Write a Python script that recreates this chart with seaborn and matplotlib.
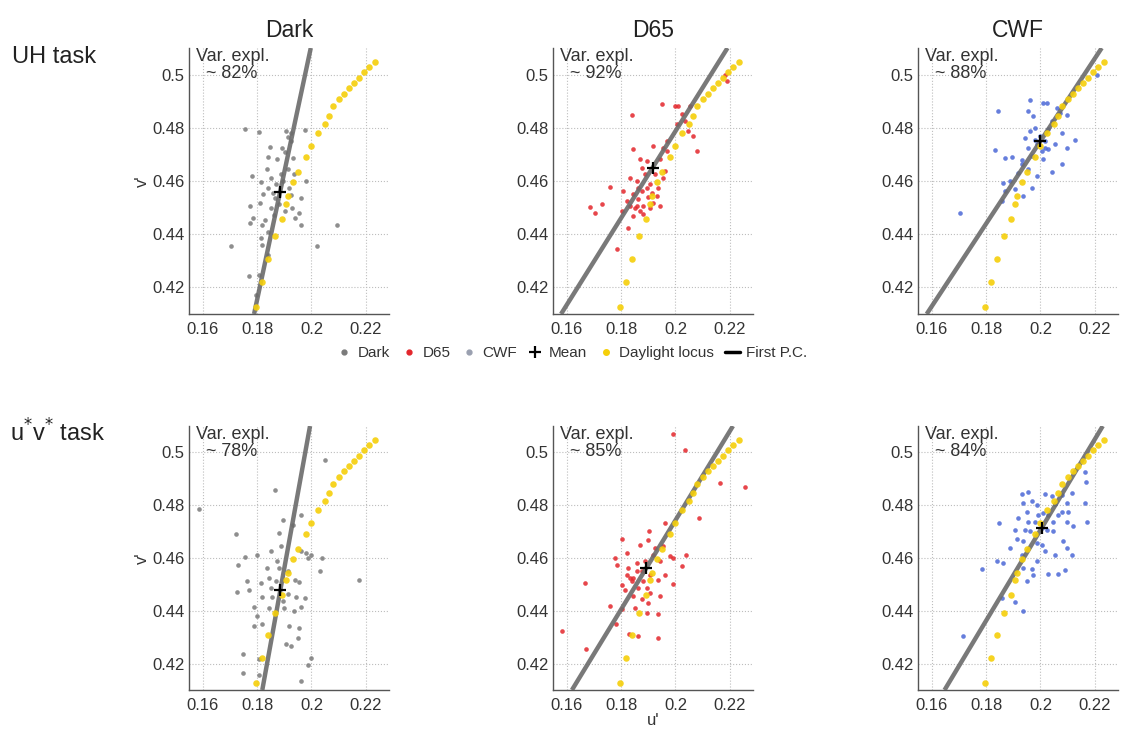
import numpy as np
import pandas as pd
import matplotlib
matplotlib.use("Agg")
import matplotlib.pyplot as plt
from matplotlib.lines import Line2D
import seaborn as sns

sns.set_theme(style="white")
plt.rcParams['font.family'] = ['Liberation Sans', 'DejaVu Sans']

# ---------------- data ----------------
conditions = ["Dark", "D65", "CWF"]
tasks = ["UH task", "u$^{*}$v$^{*}$ task"]
var_expl = [[82, 92, 88], [78, 85, 84]]

mean_u = [[0.1885, 0.1916, 0.2000], [0.1886, 0.1893, 0.2004]]
mean_v = [[0.4560, 0.4650, 0.4750], [0.4480, 0.4562, 0.4713]]
pc_slope = [[4.80, 1.635, 1.555], [5.70, 1.69, 1.72]]

locus_u = [0.1798, 0.1818, 0.1842, 0.1867, 0.1891, 0.1906, 0.1914, 0.1931, 0.1950,
           0.1980, 0.2000, 0.2025, 0.2050, 0.2063, 0.2081, 0.2100, 0.2119, 0.2138,
           0.2156, 0.2175, 0.2194, 0.2213, 0.2232]
locus_v = [0.4125, 0.4220, 0.4308, 0.4392, 0.4458, 0.4515, 0.4545, 0.4595, 0.4635,
           0.4690, 0.4732, 0.4782, 0.4815, 0.4845, 0.4882, 0.4908, 0.4928, 0.4948,
           0.4968, 0.4988, 0.5008, 0.5028, 0.5048]

uh_dark_u = [0.1756, 0.1806, 0.1906, 0.1925, 0.1975, 0.1913, 0.1925, 0.1848, 0.1890, 0.1903,
             0.1840, 0.1875, 0.1931, 0.1835, 0.1853, 0.1781, 0.1913, 0.1935, 0.1981, 0.1815,
             0.1840, 0.1860, 0.1823, 0.1810, 0.1775, 0.1773, 0.1785, 0.1828, 0.1865, 0.1925,
             0.1963, 0.1903, 0.1928, 0.1956, 0.1940, 0.1960, 0.1819, 0.1840, 0.2094, 0.1706,
             0.2019, 0.1819, 0.1840, 0.1769, 0.1806, 0.1798, 0.1881, 0.1869, 0.1894, 0.1888,
             0.1919, 0.1850, 0.1863, 0.1813]
uh_dark_v = [0.4795, 0.4786, 0.4789, 0.4779, 0.4792, 0.4766, 0.4751, 0.4729, 0.4723, 0.4710,
             0.4691, 0.4682, 0.4688, 0.4644, 0.4613, 0.4619, 0.4644, 0.4628, 0.4600, 0.4597,
             0.4575, 0.4556, 0.4550, 0.4518, 0.4506, 0.4443, 0.4461, 0.4455, 0.4537, 0.4547,
             0.4537, 0.4487, 0.4499, 0.4480, 0.4461, 0.4434, 0.4434, 0.4408, 0.4436, 0.4354,
             0.4354, 0.4358, 0.4320, 0.4241, 0.4247, 0.4172, 0.4512, 0.4587, 0.4600, 0.4625,
             0.4575, 0.4499, 0.4474, 0.4386]

uh_d65_u = [0.1949, 0.1998, 0.2010, 0.2053, 0.1839, 0.2023, 0.2035, 0.2182, 0.2188, 0.2065,
            0.2078, 0.1968, 0.1919, 0.1845, 0.1955, 0.1870, 0.1894, 0.1943, 0.1961, 0.1955,
            0.1833, 0.1857, 0.1888, 0.1759, 0.1906, 0.1876, 0.1845, 0.1900, 0.1863, 0.1821,
            0.1931, 0.1918, 0.1882, 0.1851, 0.1729, 0.1686, 0.1704, 0.1802, 0.1845, 0.1882,
            0.1827, 0.1784, 0.1857, 0.1876, 0.1894, 0.1863, 0.1925, 0.1937, 0.1912, 0.1833,
            0.1808, 0.1870, 0.1906, 0.1943, 0.1968, 0.2004, 0.2047]
uh_d65_v = [0.4890, 0.4881, 0.4881, 0.4881, 0.4848, 0.4853, 0.4825, 0.5000, 0.4975, 0.4769,
            0.4713, 0.4750, 0.4731, 0.4719, 0.4725, 0.4681, 0.4675, 0.4681, 0.4638, 0.4613,
            0.4613, 0.4600, 0.4625, 0.4579, 0.4588, 0.4563, 0.4550, 0.4538, 0.4531, 0.4525,
            0.4544, 0.4519, 0.4506, 0.4500, 0.4515, 0.4503, 0.4478, 0.4488, 0.4469, 0.4475,
            0.4425, 0.4344, 0.4506, 0.4650, 0.4575, 0.4575, 0.4625, 0.4575, 0.4556, 0.4506,
            0.4563, 0.4488, 0.4500, 0.4506, 0.4713, 0.4813, 0.4788]

uh_cwf_u = [0.1961, 0.2010, 0.2023, 0.1845, 0.1955, 0.1974, 0.2059, 0.2071, 0.2096, 0.2041,
            0.2029, 0.2078, 0.2127, 0.1961, 0.1943, 0.1980, 0.1986, 0.2016, 0.2029, 0.2004,
            0.2096, 0.1833, 0.1870, 0.1894, 0.1931, 0.1968, 0.2010, 0.2078, 0.2041, 0.1986,
            0.1955, 0.1864, 0.1888, 0.1906, 0.1968, 0.1937, 0.1870, 0.1857, 0.1704, 0.1931,
            0.1998, 0.1980, 0.2016, 0.2053, 0.2206, 0.1955, 0.1919]
uh_cwf_v = [0.4903, 0.4894, 0.4894, 0.4865, 0.4865, 0.4844, 0.4875, 0.4856, 0.4848, 0.4825,
            0.4794, 0.4781, 0.4753, 0.4788, 0.4760, 0.4753, 0.4738, 0.4725, 0.4719, 0.4713,
            0.4723, 0.4715, 0.4688, 0.4690, 0.4678, 0.4694, 0.4681, 0.4665, 0.4635, 0.4619,
            0.4644, 0.4594, 0.4600, 0.4569, 0.4575, 0.4544, 0.4563, 0.4525, 0.4481, 0.4663,
            0.4769, 0.4800, 0.4750, 0.4738, 0.5000, 0.4725, 0.4631]

uv_dark_u = [0.1588, 0.2050, 0.1865, 0.1894, 0.1963, 0.1931, 0.1723, 0.1881, 0.1888, 0.1850,
             0.1756, 0.1800, 0.1981, 0.2000, 0.2038, 0.1731, 0.1838, 0.2031, 0.1881, 0.1763,
             0.1844, 0.1938, 0.1956, 0.2175, 0.1725, 0.1769, 0.1819, 0.1856, 0.1913, 0.1944,
             0.1975, 0.1788, 0.1800, 0.1844, 0.1900, 0.1935, 0.1963, 0.1788, 0.1819, 0.1919,
             0.1953, 0.1950, 0.1906, 0.1925, 0.1750, 0.1806, 0.2000, 0.1988, 0.1750, 0.1806,
             0.1963, 0.1869, 0.1850, 0.1894, 0.1875, 0.1913, 0.1813, 0.1963, 0.1988]
uv_dark_v = [0.4786, 0.4971, 0.4858, 0.4745, 0.4764, 0.4726, 0.4692, 0.4694, 0.4644, 0.4625,
             0.4603, 0.4610, 0.4619, 0.4613, 0.4600, 0.4572, 0.4562, 0.4552, 0.4562, 0.4514,
             0.4525, 0.4518, 0.4509, 0.4516, 0.4472, 0.4480, 0.4452, 0.4452, 0.4462, 0.4452,
             0.4449, 0.4414, 0.4380, 0.4409, 0.4409, 0.4401, 0.4414, 0.4342, 0.4351, 0.4342,
             0.4336, 0.4296, 0.4273, 0.4267, 0.4238, 0.4216, 0.4223, 0.4195, 0.4166, 0.4157,
             0.4135, 0.4512, 0.4487, 0.4436, 0.4587, 0.4550, 0.4506, 0.4625, 0.4600]

uv_d65_u = [0.1990, 0.2035, 0.2164, 0.2255, 0.2088, 0.1961, 0.1904, 0.1900, 0.1802, 0.1870,
            0.1925, 0.1955, 0.1821, 0.1778, 0.1784, 0.1857, 0.1980, 0.1992, 0.2039, 0.2023,
            0.1827, 0.1876, 0.1821, 0.1845, 0.1906, 0.1961, 0.1937, 0.1667, 0.1992, 0.1814,
            0.1863, 0.1906, 0.1943, 0.1900, 0.1845, 0.1759, 0.1802, 0.1851, 0.1937, 0.1781,
            0.1582, 0.1830, 0.1863, 0.1937, 0.1671, 0.1833, 0.1882, 0.1857, 0.1888, 0.1919,
            0.1943, 0.1839, 0.1894, 0.1802, 0.1876, 0.1894]
uv_d65_v = [0.5068, 0.5009, 0.4883, 0.4870, 0.4751, 0.4732, 0.4701, 0.4669, 0.4673, 0.4650,
            0.4638, 0.4644, 0.4619, 0.4600, 0.4575, 0.4581, 0.4606, 0.4600, 0.4610, 0.4569,
            0.4562, 0.4550, 0.4537, 0.4525, 0.4537, 0.4537, 0.4518, 0.4506, 0.4503, 0.4480,
            0.4487, 0.4468, 0.4455, 0.4430, 0.4455, 0.4418, 0.4405, 0.4411, 0.4386, 0.4351,
            0.4323, 0.4313, 0.4304, 0.4298, 0.4254, 0.4525, 0.4512, 0.4550, 0.4587, 0.4613,
            0.4587, 0.4512, 0.4487, 0.4499, 0.4443, 0.4392]

uv_cwf_u = [0.2164, 0.2167, 0.1931, 0.1955, 0.2016, 0.2041, 0.2078, 0.2115, 0.1937, 0.1968,
            0.1986, 0.2053, 0.2096, 0.2164, 0.1949, 0.2010, 0.2078, 0.2102, 0.1847, 0.1918,
            0.1955, 0.1980, 0.2047, 0.2096, 0.2170, 0.1906, 0.1943, 0.1961, 0.2023, 0.2047,
            0.2121, 0.1912, 0.1937, 0.1986, 0.2004, 0.2084, 0.2096, 0.2053, 0.1839, 0.1863,
            0.1986, 0.1784, 0.1968, 0.1937, 0.2090, 0.1974, 0.2029, 0.2066, 0.1949, 0.1857,
            0.1906, 0.1937, 0.1716, 0.2004, 0.2029, 0.1992, 0.2066, 0.1931, 0.2016, 0.1888,
            0.2115]
uv_cwf_v = [0.4925, 0.4889, 0.4842, 0.4849, 0.4842, 0.4833, 0.4839, 0.4845, 0.4808, 0.4816,
            0.4801, 0.4804, 0.4808, 0.4808, 0.4776, 0.4770, 0.4776, 0.4776, 0.4732, 0.4751,
            0.4736, 0.4738, 0.4736, 0.4736, 0.4738, 0.4707, 0.4707, 0.4701, 0.4707, 0.4701,
            0.4720, 0.4673, 0.4663, 0.4657, 0.4648, 0.4665, 0.4638, 0.4613, 0.4587, 0.4581,
            0.4590, 0.4560, 0.4560, 0.4562, 0.4556, 0.4535, 0.4540, 0.4540, 0.4512, 0.4449,
            0.4434, 0.4399, 0.4304, 0.4713, 0.4764, 0.4764, 0.4764, 0.4613, 0.4625, 0.4638,
            0.4613]

points = [[(uh_dark_u, uh_dark_v), (uh_d65_u, uh_d65_v), (uh_cwf_u, uh_cwf_v)],
          [(uv_dark_u, uv_dark_v), (uv_d65_u, uv_d65_v), (uv_cwf_u, uv_cwf_v)]]

x_ticks = [0.16, 0.18, 0.2, 0.22]
x_ticklabels = ["0.16", "0.18", "0.2", "0.22"]
y_ticks = [0.42, 0.44, 0.46, 0.48, 0.5]
y_ticklabels = ["0.42", "0.44", "0.46", "0.48", "0.5"]

# ---------------- styling ----------------
cond_colors = {"Dark": "#7a7a7a", "D65": "#e3262b", "CWF": "#4b68d6"}
locus_color = "#f5cf0a"
pc_color = "#6b6b6b"
text_color = "#333333"

W, H = 1123, 733
fig = plt.figure(figsize=(W / 100, H / 100), dpi=100)

col_left = [189, 553, 918]
ax_w = 200
row_top = [48, 426]
row_bot = [314, 690]

locus_df = pd.DataFrame({"u": locus_u, "v": locus_v})

for r in range(2):
    for c in range(3):
        l = col_left[c]
        t, b = row_top[r], row_bot[r]
        ax = fig.add_axes([l / W, 1 - b / H, ax_w / W, (b - t) / H])
        cond = conditions[c]
        pu, pv = points[r][c]
        df = pd.DataFrame({"u": pu, "v": pv})
        sns.scatterplot(data=df, x="u", y="v", ax=ax, color=cond_colors[cond],
                        s=11, linewidth=0, alpha=0.85, zorder=2)
        ax.axline((mean_u[r][c], mean_v[r][c]), slope=pc_slope[r][c],
                  color=pc_color, lw=3.2, alpha=0.9, zorder=3, solid_capstyle="butt")
        sns.scatterplot(data=locus_df, x="u", y="v", ax=ax, color=locus_color,
                        s=22, linewidth=0, alpha=0.9, zorder=4)
        ax.scatter([mean_u[r][c]], [mean_v[r][c]], marker="+", s=70, color="black",
                   linewidths=1.6, zorder=5)
        ax.set_xlim(0.155, 0.2285)
        ax.set_ylim(0.41, 0.51)
        ax.set_xticks(x_ticks)
        ax.set_xticklabels(x_ticklabels)
        ax.set_yticks(y_ticks)
        ax.set_yticklabels(y_ticklabels)
        ax.tick_params(axis="both", labelsize=12, colors=text_color, length=0)
        ax.tick_params(axis="x", pad=6)
        ax.tick_params(axis="y", pad=3)
        ax.grid(True, linestyle=":", color="#bdbdbd", lw=0.8)
        for s in ["top", "right"]:
            ax.spines[s].set_visible(False)
        for s in ["left", "bottom"]:
            ax.spines[s].set_color("#555555")
            ax.spines[s].set_linewidth(1.0)
        ax.set_xlabel("")
        ax.set_ylabel("")
        if c == 0:
            ax.set_ylabel("v'", fontsize=12, color=text_color, labelpad=2)
        if r == 1 and c == 1:
            ax.set_xlabel("u'", fontsize=12, color=text_color, labelpad=0)
        if r == 0:
            ax.set_title(cond, fontsize=16.5, color="#222222", pad=8)
        ax.text(0.035, 1.0, "Var. expl.\n  ~ %d%%" % var_expl[r][c],
                transform=ax.transAxes, ha="left", va="top", fontsize=13,
                color=text_color, linespacing=1.0)

fig.text(12 / W, 1 - 57 / H, tasks[0], fontsize=17, color="#222222", va="center", ha="left")
fig.text(10 / W, 1 - 433 / H, tasks[1], fontsize=17, color="#222222", va="center", ha="left")

handles = [
    Line2D([], [], marker="o", ls="", color=cond_colors["Dark"], markersize=3.5),
    Line2D([], [], marker="o", ls="", color=cond_colors["D65"], markersize=3.5),
    Line2D([], [], marker="o", ls="", color="#9aa0b0", markersize=3.5),
    Line2D([], [], marker="+", ls="", color="black", markersize=8, markeredgewidth=1.6),
    Line2D([], [], marker="o", ls="", color=locus_color, markersize=4),
    Line2D([], [], color="black", lw=2.5),
]
labels = ["Dark", "D65", "CWF", "Mean", "Daylight locus", "First P.C."]
fig.legend(handles, labels, loc="center", bbox_to_anchor=(572 / W, 1 - 353 / H),
           ncol=6, frameon=False, fontsize=11, handlelength=1.0, handletextpad=0.4,
           columnspacing=0.7, labelcolor=text_color)

fig.savefig("out.png", dpi=100)
